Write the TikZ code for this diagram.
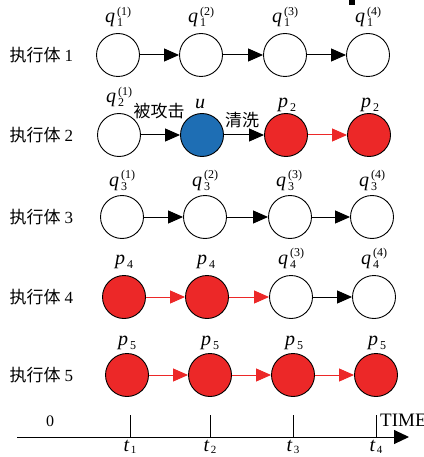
\documentclass[tikz,border=0pt]{standalone}
\usepackage{fontspec}
\setmainfont{Liberation Serif}
\newfontfamily\cjk{Noto Sans CJK SC}
\usetikzlibrary{arrows.meta}
\definecolor{statered}{RGB}{236,40,40}
\definecolor{stateblue}{RGB}{30,110,180}
% variable with subscript and parenthesised superscript
\newcommand{\qlab}[3]{{\fontsize{20}{20}\selectfont\itshape #1}\rlap{\raisebox{-4pt}{\fontsize{12}{12}\selectfont\,#2}}\raisebox{7.5pt}{\fontsize{12}{12}\selectfont\,#3}}
% variable with subscript only
\newcommand{\plab}[2]{{\fontsize{20}{20}\selectfont\itshape #1}\raisebox{-4pt}{\fontsize{12}{12}\selectfont\,#2}}
% time mark: slightly smaller subscript, kept close to the baseline
\newcommand{\tlab}[1]{{\fontsize{20}{20}\selectfont\itshape t}\raisebox{-2.5pt}{\fontsize{11}{11}\selectfont\,#1}}
% executor row title: CJK word plus serif numeral
\newcommand{\rowtitle}[1]{{\cjk 执行体}\hspace{4pt}#1}
\begin{document}
\begin{tikzpicture}[x=1pt,y=-1pt,
  state/.style={circle,draw,line width=0.9pt,minimum size=43pt,inner sep=0pt,fill=white},
  hit/.style={state,fill=statered},
  cleaned/.style={state,fill=stateblue},
  flow/.style={-{Triangle[length=15pt,width=13pt]},line width=1pt},
  redflow/.style={flow,draw=statered,fill=statered},
  rowname/.style={anchor=west,font=\fontsize{17}{17}\selectfont},
  tag/.style={anchor=base,inner sep=0pt},
  cn/.style={font=\cjk\fontsize{17}{17}\selectfont,inner sep=0pt}]
\useasboundingbox (0,0) rectangle (423,457);
\fill (349,0) rectangle (355,5);

% executor 1
\node[rowname] (r1) at (6,55) {\rowtitle{1}};
\node[state] (a1) at (118,55) {};
\node[state] (a2) at (201,55) {};
\node[state] (a3) at (285,55) {};
\node[state] (a4) at (368,55) {};
\node[tag] (la1) at (118,23) {\qlab{q}{1}{(1)}};
\node[tag] (la2) at (201,23) {\qlab{q}{1}{(2)}};
\node[tag] (la3) at (285,23) {\qlab{q}{1}{(3)}};
\node[tag] (la4) at (368,23) {\qlab{q}{1}{(4)}};
\draw[flow] (a1) -- (a2);
\draw[flow] (a2) -- (a3);
\draw[flow] (a3) -- (a4);

% executor 2
\node[rowname] (r2) at (6,135) {\rowtitle{2}};
\node[state] (b1) at (119,135) {};
\node[cleaned] (b2) at (202,135) {};
\node[hit] (b3) at (286,135) {};
\node[hit] (b4) at (369,135) {};
\node[tag] (lb1) at (119,103) {\qlab{q}{2}{(1)}};
\node[tag] (lb2) at (200,109) {{\fontsize{20}{20}\selectfont\itshape u}};
\node[tag] (lb3) at (287,108) {\plab{p}{2}};
\node[tag] (lb4) at (370,108) {\plab{p}{2}};
\node[cn] (atk) at (159,111) {被攻击};
\node[cn] (cln) at (242,120) {清洗};
\draw[flow] (b1) -- (b2);
\draw[flow] (b2) -- (b3);
\draw[redflow] (b3) -- (b4);

% executor 3
\node[rowname] (r3) at (6,217) {\rowtitle{3}};
\node[state] (c1) at (122,217) {};
\node[state] (c2) at (205,217) {};
\node[state] (c3) at (290,217) {};
\node[state] (c4) at (372,217) {};
\node[tag] (lc1) at (122,186) {\qlab{q}{3}{(1)}};
\node[tag] (lc2) at (205,186) {\qlab{q}{3}{(2)}};
\node[tag] (lc3) at (289,186) {\qlab{q}{3}{(3)}};
\node[tag] (lc4) at (372,186) {\qlab{q}{3}{(4)}};
\draw[flow] (c1) -- (c2);
\draw[flow] (c2) -- (c3);
\draw[flow] (c3) -- (c4);

% executor 4
\node[rowname] (r4) at (6,297) {\rowtitle{4}};
\node[hit] (d1) at (124,297) {};
\node[hit] (d2) at (207,297) {};
\node[state] (d3) at (291,297) {};
\node[state] (d4) at (374,297) {};
\node[tag] (ld1) at (124,264) {\plab{p}{4}};
\node[tag] (ld2) at (206,264) {\plab{p}{4}};
\node[tag] (ld3) at (291,264) {\qlab{q}{4}{(3)}};
\node[tag] (ld4) at (374,264) {\qlab{q}{4}{(4)}};
\draw[redflow] (d1) -- (d2);
\draw[redflow] (d2) -- (d3);
\draw[flow] (d3) -- (d4);

% executor 5
\node[rowname] (r5) at (6,375) {\rowtitle{5}};
\node[hit] (e1) at (127,375) {};
\node[hit] (e2) at (210,375) {};
\node[hit] (e3) at (293,375) {};
\node[hit] (e4) at (376,375) {};
\node[tag] (le1) at (127,345) {\plab{p}{5}};
\node[tag] (le2) at (210,345) {\plab{p}{5}};
\node[tag] (le3) at (294,345) {\plab{p}{5}};
\node[tag] (le4) at (377,345) {\plab{p}{5}};
\draw[redflow] (e1) -- (e2);
\draw[redflow] (e2) -- (e3);
\draw[redflow] (e3) -- (e4);

% time axis
\coordinate (ax0) at (17,437);
\coordinate (ax1) at (409,437);
\draw[-{Triangle[length=15pt,width=14pt]},line width=1pt] (ax0) -- (ax1);
\foreach \i/\x in {1/130,2/210,3/293,4/376}{
  \coordinate (tk\i) at (\x,415);
  \coordinate (tb\i) at (\x,437);
  \draw[line width=0.9pt] (tk\i) -- (tb\i);
  \node[tag] (tl\i) at (\x,451) {\tlab{\i}};
}
\node[tag] (zero) at (50,426) {\fontsize{16}{16}\selectfont 0};
\node[tag,anchor=base west] (time) at (380,426) {\fontsize{19}{19}\selectfont TIME};
\end{tikzpicture}
\end{document}
